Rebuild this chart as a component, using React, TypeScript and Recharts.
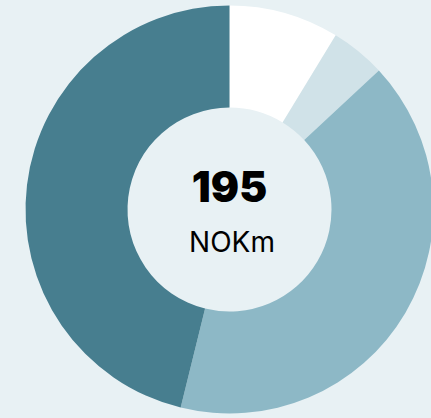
import React from "react";
import { PieChart, Pie, Cell } from "recharts";

const categories = ["Segment A", "Segment B", "Segment C", "Segment D"];
const values = [17, 8.5, 79.5, 90];
const colors = ["#ffffff", "#d0e2e8", "#8db8c6", "#477e8f"];
const totalLabel = "195";
const unitLabel = "NOKm";

const data = categories.map((name, i) => ({ name, value: values[i] }));

export default function App() {
  return (
    <div
      style={{
        position: "fixed",
        left: 0,
        top: 0,
        width: 431,
        height: 418,
        background: "#e8f1f4",
        overflow: "hidden",
      }}
    >
      <PieChart width={431} height={418} margin={{ top: 0, right: 0, bottom: 0, left: 0 }}>
        <Pie
          data={data}
          dataKey="value"
          nameKey="name"
          cx={229.5}
          cy={209.5}
          innerRadius={102}
          outerRadius={204}
          startAngle={90}
          endAngle={-270}
          stroke="none"
          isAnimationActive={false}
        >
          {data.map((d, i) => (
            <Cell key={d.name} fill={colors[i]} />
          ))}
        </Pie>
      </PieChart>
      <div
        style={{
          position: "absolute",
          left: 129.5,
          width: 200,
          top: 162,
          textAlign: "center",
          fontFamily: "Inter, sans-serif",
          fontWeight: 900,
          fontSize: 42,
          lineHeight: "50px",
          color: "#000",
        }}
      >
        {totalLabel}
      </div>
      <div
        style={{
          position: "absolute",
          left: 132,
          width: 200,
          top: 225,
          textAlign: "center",
          fontFamily: "Inter, sans-serif",
          fontWeight: 400,
          fontSize: 28,
          lineHeight: "34px",
          color: "#000",
        }}
      >
        {unitLabel}
      </div>
    </div>
  );
}
